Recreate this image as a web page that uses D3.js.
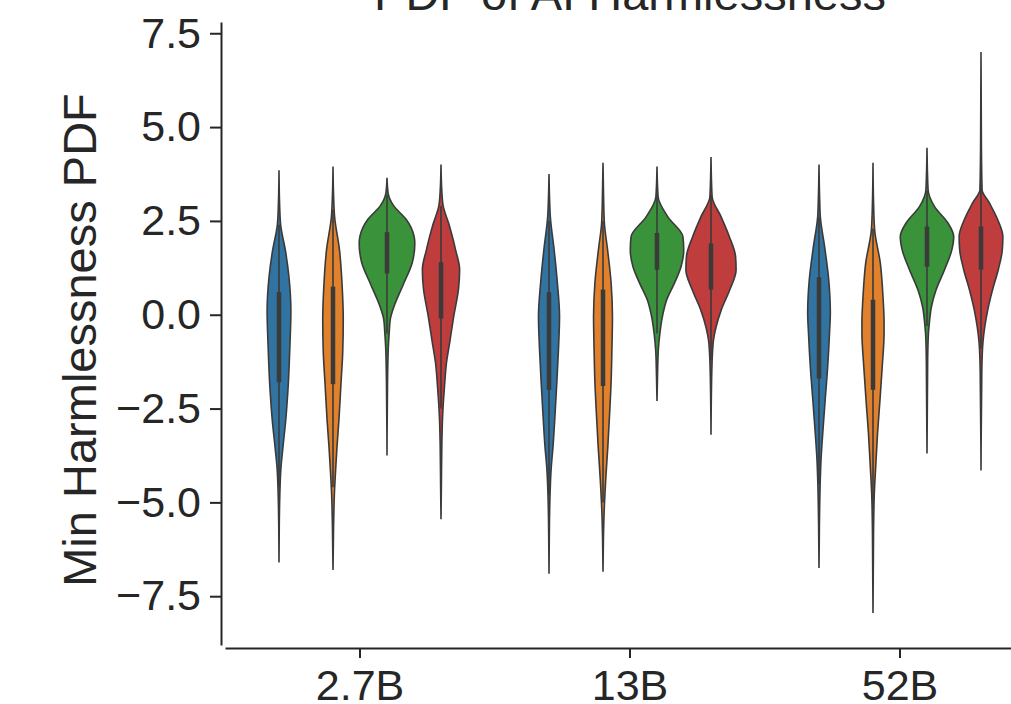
<!DOCTYPE html>
<html>
<head>
<meta charset="utf-8">
<script src="https://cdn.jsdelivr.net/npm/d3@7"></script>
<style>
  body { margin: 0; background: #fff; }
  svg { display: block; font-family: "Liberation Sans", Arial, sans-serif; }
</style>
</head>
<body>
<svg width="1011" height="704"></svg>
<script>
(function () {
    'use strict';

    // categories and series
    const groups = ['2.7B', '13B', '52B'];
    const series = ['s1', 's2', 's3', 's4'];
    const colors = ['#3274a1', '#e1812c', '#3a923a', '#c03d3e'];
    const yTicks = [-7.5, -5.0, -2.5, 0.0, 2.5, 5.0, 7.5];

    // density profiles: [value, relative density] per series (blue, orange, green, red)
    const density27B = [
        [[3.85, 0], [3.0, 0.02], [2.4, 0.06], [1.7, 0.24], [1.0, 0.37], [0.1, 0.44], [-0.9, 0.4], [-1.9, 0.34], [-2.8, 0.25], [-3.5, 0.15], [-4.1, 0.07], [-4.8, 0.03], [-5.6, 0.01], [-6.6, 0]],
        [[3.95, 0], [3.2, 0.02], [2.6, 0.06], [1.73, 0.24], [0.75, 0.34], [-0.13, 0.38], [-1.0, 0.36], [-1.9, 0.29], [-2.8, 0.22], [-3.5, 0.15], [-4.1, 0.1], [-4.8, 0.05], [-5.7, 0.02], [-6.8, 0]],
        [[3.65, 0], [3.25, 0.04], [2.9, 0.25], [2.55, 0.7], [2.1, 1.0], [1.9, 1.03], [1.4, 0.94], [0.8, 0.6], [0.2, 0.25], [-0.13, 0.12], [-0.5, 0.08], [-0.85, 0.05], [-1.8, 0.02], [-3.75, 0]],
        [[4.0, 0], [3.3, 0.03], [2.9, 0.08], [2.4, 0.3], [2.0, 0.45], [1.73, 0.54], [1.2, 0.69], [0.7, 0.65], [-0.05, 0.47], [-0.75, 0.32], [-1.3, 0.2], [-1.9, 0.13], [-2.7, 0.06], [-3.5, 0.03], [-4.5, 0.015], [-5.45, 0]]
    ];
    const density13B = [
        [[3.75, 0], [3.1, 0.02], [2.6, 0.05], [1.73, 0.19], [0.85, 0.31], [-0.05, 0.39], [-0.93, 0.35], [-1.8, 0.29], [-2.7, 0.22], [-3.5, 0.15], [-4.1, 0.08], [-5.0, 0.03], [-6.0, 0.01], [-6.9, 0]],
        [[4.05, 0], [3.2, 0.02], [2.45, 0.05], [1.73, 0.17], [0.85, 0.3], [-0.05, 0.35], [-0.93, 0.33], [-1.8, 0.3], [-2.7, 0.24], [-3.5, 0.18], [-4.4, 0.1], [-5.3, 0.04], [-6.0, 0.015], [-6.85, 0]],
        [[3.95, 0], [3.15, 0.04], [2.6, 0.41], [2.08, 0.96], [1.73, 0.99], [1.28, 0.89], [0.85, 0.65], [0.4, 0.36], [-0.05, 0.2], [-0.48, 0.11], [-0.93, 0.05], [-1.6, 0.02], [-2.3, 0]],
        [[4.2, 0], [3.15, 0.04], [2.6, 0.38], [2.08, 0.68], [1.55, 0.91], [1.2, 0.93], [0.67, 0.7], [0.13, 0.38], [-0.32, 0.19], [-0.75, 0.08], [-1.5, 0.03], [-3.2, 0]]
    ];
    const density52B = [
        [[4.0, 0], [3.2, 0.02], [2.6, 0.05], [1.8, 0.21], [0.93, 0.36], [0.05, 0.42], [-0.48, 0.39], [-1.4, 0.32], [-2.26, 0.23], [-3.14, 0.14], [-3.86, 0.075], [-4.58, 0.04], [-5.6, 0.015], [-6.75, 0]],
        [[4.05, 0], [3.0, 0.02], [2.26, 0.06], [1.38, 0.27], [0.48, 0.37], [-0.2, 0.41], [-0.48, 0.41], [-1.4, 0.34], [-2.26, 0.26], [-3.14, 0.17], [-4.05, 0.1], [-4.74, 0.05], [-5.8, 0.02], [-7.95, 0]],
        [[4.45, 0], [3.33, 0.04], [2.88, 0.28], [2.45, 0.77], [2.08, 0.99], [1.73, 0.92], [1.2, 0.65], [0.67, 0.34], [0.2, 0.16], [-0.2, 0.09], [-0.48, 0.055], [-1.2, 0.025], [-3.7, 0]],
        [[7.0, 0], [4.5, 0.015], [3.33, 0.04], [2.98, 0.31], [2.53, 0.62], [2.08, 0.81], [1.73, 0.79], [1.2, 0.64], [0.67, 0.43], [0.13, 0.25], [-0.32, 0.14], [-0.75, 0.07], [-1.5, 0.03], [-4.15, 0]]
    ];

    // box stats: [whisker low, q1, median, q3, whisker high]
    const box27B = [[-4.6, -1.8, -0.4, 0.6, 2.4], [-4.6, -1.85, -0.5, 0.75, 2.8], [-0.5, 1.1, 1.7, 2.2, 3.2], [-2.5, -0.1, 0.7, 1.4, 2.9]];
    const box13B = [[-4.8, -2.0, -0.6, 0.6, 2.5], [-5.0, -1.9, -0.6, 0.67, 2.5], [-0.5, 1.2, 1.7, 2.18, 3.2], [-1.2, 0.67, 1.3, 1.9, 3.2]];
    const box52B = [[-4.5, -1.7, -0.3, 1.0, 2.6], [-5.2, -2.0, -0.7, 0.4, 2.3], [-0.3, 1.28, 1.85, 2.35, 3.3], [-0.9, 1.2, 1.8, 2.35, 3.5]];

    const densities = [density27B, density13B, density52B];
    const boxes = [box27B, box13B, box52B];

    const width = 1011;
    const height = 704;
    const margin = ({ top: 22, right: -24, bottom: 59, left: 225 });
    const ink = '#262626';
    const outline = '#3a3a3a';

    const x = d3.scaleBand()
        .domain(groups)
        .range([margin.left, width - margin.right]);

    const hue = d3.scaleBand()
        .domain(series)
        .range([-0.4 * x.bandwidth(), 0.4 * x.bandwidth()]);

    const y = d3.scaleLinear()
        .domain([-8.8, 7.8])
        .range([height - margin.bottom, margin.top]);

    const w = d3.scaleLinear()
        .domain([0, 1])
        .range([0, hue.bandwidth() / 2]);

    const svg = d3.select('svg')
        .attr('viewBox', [0, 0, width, height]);

    // violins
    const plots = svg.append('g').classed('plots', true);

    groups.forEach((g, gi) => {
        series.forEach((s, si) => {
            const cx = x(g) + x.bandwidth() / 2 + hue(s) + hue.bandwidth() / 2;
            const area = d3.area()
                .y(d => y(d[0]))
                .x0(d => cx - w(d[1]))
                .x1(d => cx + w(d[1]))
                .curve(d3.curveMonotoneY);

            plots.append('path')
                .attr('d', area(densities[gi][si]))
                .attr('fill', colors[si])
                .attr('stroke', outline)
                .attr('stroke-width', 1.6);

            const b = boxes[gi][si];
            plots.append('line')
                .attr('x1', cx).attr('x2', cx)
                .attr('y1', y(b[0])).attr('y2', y(b[4]))
                .attr('stroke', outline)
                .attr('stroke-width', 1.6);
            plots.append('line')
                .attr('x1', cx).attr('x2', cx)
                .attr('y1', y(b[1])).attr('y2', y(b[3]))
                .attr('stroke', outline)
                .attr('stroke-width', 4.5);
        });
    });

    // axes
    const yAxis = g => g
        .attr('transform', `translate(${margin.left - 4},0)`)
        .call(d3.axisLeft(y)
            .tickValues(yTicks)
            .tickFormat(d3.format('.1f'))
            .tickSize(11)
            .tickSizeOuter(0)
            .tickPadding(9));

    const xAxis = g => g
        .attr('transform', `translate(0,${height - margin.bottom + 3})`)
        .call(d3.axisBottom(x)
            .tickSize(10)
            .tickSizeOuter(0)
            .tickPadding(11));

    const axes = svg.append('g').classed('axes', true);
    axes.append('g').call(yAxis);
    axes.append('g').call(xAxis);

    axes.selectAll('.domain, .tick line')
        .attr('stroke', ink)
        .attr('stroke-width', 2);
    axes.selectAll('.tick text')
        .attr('fill', ink)
        .style('font-size', '43px');

    // labels
    svg.append('text')
        .attr('x', x.range()[0] + (x.range()[1] - x.range()[0]) / 2)
        .attr('y', 10)
        .attr('text-anchor', 'middle')
        .attr('fill', ink)
        .style('font-size', '47px')
        .text('PDF of AI Harmlessness');

    svg.append('text')
        .attr('transform', 'translate(96,340) rotate(-90)')
        .attr('text-anchor', 'middle')
        .attr('fill', ink)
        .style('font-size', '47px')
        .text('Min Harmlessness PDF');
})();
</script>
</body>
</html>
